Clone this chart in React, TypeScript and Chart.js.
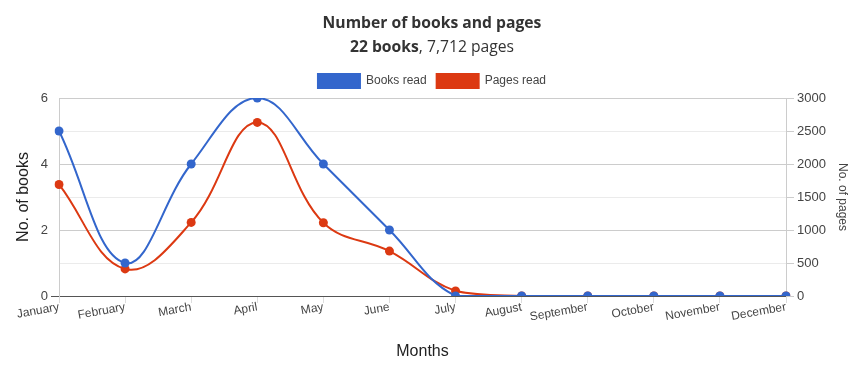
import React, { useEffect, useRef } from "react";
import { Chart, registerables } from "chart.js";

Chart.register(...registerables);

const months = ["January", "February", "March", "April", "May", "June", "July", "August", "September", "October", "November", "December"];
const booksRead = [5, 1, 4, 6, 4, 2, 0, 0, 0, 0, 0, 0];
const pagesRead = [1690, 410, 1115, 2630, 1110, 680, 77, 0, 0, 0, 0, 0];
const titleLine1 = "Number of books and pages";
const titleBold = "22 books";
const titleRest = ", 7,712 pages";

const BLUE = "#3366cc";
const RED = "#dc3912";
const FONT = "'Liberation Sans', Arial, sans-serif";
const TFONT = "15.7px 'Open Sans'";
const TFONT_B = "bold 15.7px 'Open Sans'";

const titlePlugin = {
  id: "twoLineTitle",
  afterDraw(chart: any) {
    const ctx = chart.ctx;
    const cx = chart.width / 2;
    ctx.save();
    ctx.fillStyle = "#333";
    ctx.textBaseline = "alphabetic";
    ctx.textAlign = "center";
    ctx.font = TFONT_B;
    ctx.fillText(titleLine1, cx, 28);
    const w1 = ctx.measureText(titleBold).width;
    ctx.font = TFONT;
    const w2 = ctx.measureText(titleRest).width;
    const start = cx - (w1 + w2) / 2;
    ctx.textAlign = "left";
    ctx.font = TFONT_B;
    ctx.fillText(titleBold, start, 52);
    ctx.font = TFONT;
    ctx.fillText(titleRest, start + w1, 52);
    ctx.restore();
  },
};

export default function App() {
  const ref = useRef<HTMLCanvasElement>(null);
  useEffect(() => {
    if (!ref.current) return;
    const chart = new Chart(ref.current, {
      type: "line",
      data: {
        labels: months,
        datasets: [
          {
            label: "Books read",
            data: booksRead,
            yAxisID: "y",
            borderColor: BLUE,
            backgroundColor: BLUE,
            pointBackgroundColor: BLUE,
            pointBorderWidth: 0,
            pointRadius: 4.5,
            borderWidth: 2,
            tension: 0.4,
          },
          {
            label: "Pages read",
            data: pagesRead,
            yAxisID: "y1",
            borderColor: RED,
            backgroundColor: RED,
            pointBackgroundColor: RED,
            pointBorderWidth: 0,
            pointRadius: 4.5,
            borderWidth: 2,
            tension: 0.4,
          },
        ],
      },
      options: {
        responsive: false,
        animation: false,
        devicePixelRatio: 1,
        layout: { padding: { top: 64, left: 0, right: 0, bottom: 0 } },
        plugins: {
          title: { display: false },
          tooltip: { enabled: false },
          legend: {
            position: "top",
            labels: {
              boxWidth: 42,
              boxHeight: 14,
              padding: 10,
              color: "#444",
              font: { family: FONT, size: 12 },
            },
          },
        },
        scales: {
          x: {
            type: "category",
            offset: false,
            afterFit: (s: any) => {
              s.height = 81;
            },
            grid: {
              drawOnChartArea: false,
              drawTicks: true,
              tickLength: 7,
              color: "#dddddd",
            },
            border: { display: true, color: "#555" },
            ticks: {
              autoSkip: false,
              minRotation: 10,
              maxRotation: 10,
              color: "#444",
              font: { family: FONT, size: 12 },
              padding: -3,
            },
            title: {
              display: true,
              text: "Months",
              color: "#222",
              font: { family: FONT, size: 16 },
              padding: { top: 0, bottom: 16 },
            },
          },
          y: {
            position: "left",
            min: 0,
            max: 6,
            afterFit: (s: any) => {
              s.width = 59;
            },
            ticks: {
              stepSize: 1,
              color: "#444",
              font: { family: FONT, size: 13 },
              callback: (v: any) => (Number(v) % 2 === 0 ? String(v) : ""),
            },
            grid: {
              color: (c: any) => {
                const v = c.tick ? c.tick.value : 0;
                if (v === 0) return "#555";
                return v % 2 === 0 ? "#cccccc" : "#ebebeb";
              },
              tickColor: (c: any) => (c.tick && c.tick.value === 0 ? "#555" : "rgba(0,0,0,0)"),
              tickLength: 8,
            },
            border: { display: true, color: "#cccccc" },
            title: {
              display: true,
              text: "No. of books",
              color: "#222",
              font: { family: FONT, size: 16 },
              padding: { top: 14, bottom: 0 },
            },
          },
          y1: {
            position: "right",
            min: 0,
            max: 3000,
            afterFit: (s: any) => {
              s.width = 78;
            },
            ticks: {
              stepSize: 500,
              color: "#444",
              font: { family: FONT, size: 13 },
              callback: (v: any) => String(v),
            },
            grid: {
              drawOnChartArea: false,
              color: "#cccccc",
              tickLength: 8,
            },
            border: { display: true, color: "#cccccc" },
            title: {
              display: true,
              text: "No. of pages",
              color: "#444",
              font: { family: FONT, size: 12 },
              padding: { top: 14, bottom: 0 },
            },
          },
        },
      },
      plugins: [titlePlugin],
    } as any);
    return () => chart.destroy();
  }, []);
  return (
    <div style={{ position: "absolute", left: 0, top: 0, width: 864, height: 377 }}>
      <canvas ref={ref} width={864} height={377} />
    </div>
  );
}
